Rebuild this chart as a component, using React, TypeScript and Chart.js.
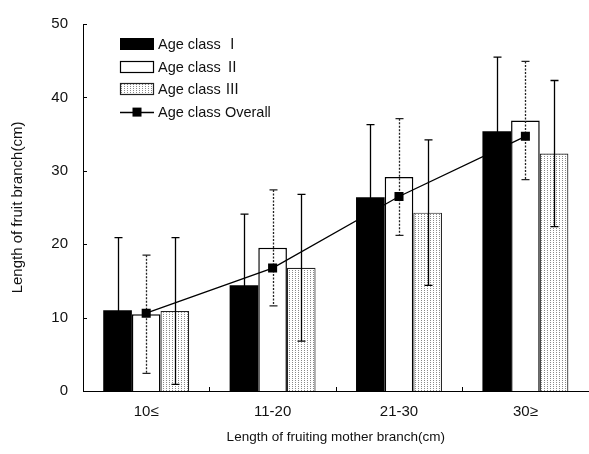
import { useEffect, useRef } from 'react';
import { Chart, registerables } from 'chart.js';

Chart.register(...registerables);

// Categories of fruiting mother branch length
const categories = ['10≤', '11-20', '21-30', '30≥'];

// Series names
const seriesNames = ['Age class Ⅰ', 'Age class Ⅱ', 'Age class Ⅲ', 'Age class Overall'];

// Mean fruit branch length (cm) and standard deviations per age class
const ageClassI = [11.0, 14.4, 26.4, 35.4];
const ageClassISd = [9.9, 9.7, 9.9, 10.1];
const ageClassII = [10.45, 19.5, 29.15, 36.85];
const ageClassIISd = [8.05, 7.9, 7.95, 8.05];
const ageClassIII = [10.9, 16.8, 24.3, 32.35];
const ageClassIIISd = [10.0, 10.0, 9.9, 9.95];
const ageClassOverall = [10.6, 16.75, 26.5, 34.7];

// Value axis
const yMin = 0;
const yMax = 50;
const yStep = 10;

const FONT_FAMILY = '"Liberation Sans", Arial, "Noto Sans CJK KR", sans-serif';
const TEXT_COLOR = '#111';

function makeStipple(): CanvasPattern | string {
  const c = document.createElement('canvas');
  c.width = 3;
  c.height = 2;
  const g = c.getContext('2d');
  if (!g) return '#eee';
  g.fillStyle = '#fff';
  g.fillRect(0, 0, 3, 2);
  g.fillStyle = '#8a8a8a';
  g.fillRect(1, 0, 1, 1);
  const p = g.createPattern(c, 'repeat');
  return p || '#eee';
}

// Draws mean ± SD whiskers right after each bar dataset
const errorBarPlugin = {
  id: 'errorBars',
  afterDatasetDraw(chart: any, args: any) {
    const ds = chart.data.datasets[args.index];
    if (!ds.errorBars) return;
    const yScale = chart.scales.y;
    const ctx = chart.ctx;
    ctx.save();
    ctx.strokeStyle = ds.errorColor || '#000';
    ctx.lineWidth = 1.3;
    ctx.setLineDash(ds.errorDash || []);
    args.meta.data.forEach((el: any, i: number) => {
      const v = ds.data[i];
      const sd = ds.errorBars[i];
      const yTop = yScale.getPixelForValue(v + sd);
      const yBot = yScale.getPixelForValue(Math.max(v - sd, yMin));
      const x = Math.round(el.x) + 0.5;
      ctx.beginPath();
      ctx.moveTo(x, yTop);
      ctx.lineTo(x, yBot);
      ctx.stroke();
      ctx.setLineDash([]);
      ctx.beginPath();
      ctx.moveTo(x - 4, yTop);
      ctx.lineTo(x + 4, yTop);
      ctx.moveTo(x - 4, yBot);
      ctx.lineTo(x + 4, yBot);
      ctx.stroke();
      ctx.setLineDash(ds.errorDash || []);
    });
    ctx.restore();
  },
};

// Inward tick marks on both axes
const axisTicksPlugin = {
  id: 'axisTicks',
  afterDraw(chart: any) {
    const { ctx, chartArea, scales } = chart;
    ctx.save();
    ctx.strokeStyle = '#000';
    ctx.lineWidth = 1;
    ctx.beginPath();
    scales.y.ticks.forEach((t: any) => {
      if (t.value === yMin) return;
      const y = Math.round(scales.y.getPixelForValue(t.value)) + 0.5;
      ctx.moveTo(chartArea.left, y);
      ctx.lineTo(chartArea.left + 4, y);
    });
    const n = categories.length;
    const w = (chartArea.right - chartArea.left) / n;
    for (let i = 1; i < n; i++) {
      const x = Math.round(chartArea.left + w * i) + 0.5;
      ctx.moveTo(x, chartArea.bottom);
      ctx.lineTo(x, chartArea.bottom - 4);
    }
    ctx.stroke();
    ctx.restore();
  },
};

// Legend block inside the plot area
const insideLegendPlugin = {
  id: 'insideLegend',
  afterDraw(chart: any) {
    const { ctx, chartArea } = chart;
    const x0 = chartArea.left + 37;
    const boxW = 34;
    const boxH = 12;
    ctx.save();
    ctx.font = `14.5px ${FONT_FAMILY}`;
    ctx.textBaseline = 'middle';
    ctx.textAlign = 'left';
    chart.data.datasets.forEach((ds: any, i: number) => {
      const cy = chartArea.top + 20 + i * 22.7;
      if (ds.type === 'line') {
        ctx.strokeStyle = ds.borderColor;
        ctx.lineWidth = 1.3;
        ctx.beginPath();
        ctx.moveTo(x0, Math.round(cy) + 0.5);
        ctx.lineTo(x0 + boxW, Math.round(cy) + 0.5);
        ctx.stroke();
        ctx.fillStyle = ds.pointBackgroundColor;
        ctx.fillRect(x0 + boxW / 2 - 4.5, cy - 4.5, 9, 9);
      } else {
        const top = Math.round(cy - boxH / 2);
        ctx.fillStyle = ds.backgroundColor;
        ctx.fillRect(x0, top, boxW, boxH);
        if (ds.borderWidth > 0) {
          ctx.strokeStyle = ds.borderColor;
          ctx.lineWidth = 1.2;
          ctx.strokeRect(x0 + 0.5, top + 0.5, boxW - 1, boxH - 1);
        }
      }
      ctx.fillStyle = TEXT_COLOR;
      ctx.fillText(ds.label, x0 + boxW + 4, cy + 1);
    });
    ctx.restore();
  },
};

export default function App() {
  const canvasRef = useRef<HTMLCanvasElement | null>(null);

  useEffect(() => {
    document.body.style.margin = '0';
    const canvas = canvasRef.current;
    if (!canvas) return;
    const stipple = makeStipple();
    const tickFont = { family: FONT_FAMILY, size: 15 };

    const chart = new Chart(canvas, {
      type: 'bar',
      data: {
        labels: categories,
        datasets: [
          {
            label: seriesNames[0],
            data: ageClassI,
            backgroundColor: '#000',
            borderColor: '#000',
            borderWidth: 0,
            order: 1,
            errorBars: ageClassISd,
            errorColor: '#000',
          } as any,
          {
            label: seriesNames[1],
            data: ageClassII,
            backgroundColor: '#fff',
            borderColor: '#000',
            borderWidth: 1.5,
            order: 1,
            errorBars: ageClassIISd,
            errorColor: '#222',
            errorDash: [2, 1.5],
          } as any,
          {
            label: seriesNames[2],
            data: ageClassIII,
            backgroundColor: stipple,
            borderColor: '#222',
            borderWidth: 1.2,
            order: 1,
            errorBars: ageClassIIISd,
            errorColor: '#000',
          } as any,
          {
            type: 'line',
            label: seriesNames[3],
            data: ageClassOverall,
            borderColor: '#000',
            borderWidth: 1.3,
            backgroundColor: '#000',
            pointStyle: 'rect',
            pointRadius: 6.4,
            pointBackgroundColor: '#000',
            pointBorderColor: '#000',
            pointBorderWidth: 0,
            tension: 0,
            order: 0,
          } as any,
        ],
      },
      options: {
        responsive: false,
        animation: false,
        devicePixelRatio: 1,
        layout: { padding: { top: 12, right: 0, bottom: 0, left: 0 } },
        datasets: {
          bar: { categoryPercentage: 0.68, barPercentage: 1, borderSkipped: 'bottom' },
        },
        plugins: {
          legend: { display: false },
          tooltip: { enabled: false },
        },
        scales: {
          x: {
            type: 'category',
            offset: true,
            grid: { display: false, drawTicks: false },
            border: { display: true, color: '#000', width: 1 },
            ticks: { padding: 12, color: TEXT_COLOR, font: tickFont },
            title: {
              display: true,
              text: 'Length of fruiting mother branch(cm)',
              color: TEXT_COLOR,
              font: { family: FONT_FAMILY, size: 13.5 },
              padding: { top: 0, bottom: 9 },
            },
            afterFit: (s: any) => {
              s.height = 63;
            },
          },
          y: {
            min: yMin,
            max: yMax,
            grid: { display: false, drawTicks: false },
            border: { display: true, color: '#000', width: 1 },
            ticks: { stepSize: yStep, padding: 15, color: TEXT_COLOR, font: tickFont },
            title: {
              display: true,
              text: 'Length of fruit branch(cm)',
              color: TEXT_COLOR,
              font: { family: FONT_FAMILY, size: 15 },
              padding: { top: 9, bottom: 0 },
            },
            afterFit: (s: any) => {
              s.width = 83;
            },
          },
        },
      } as any,
      plugins: [errorBarPlugin, axisTicksPlugin, insideLegendPlugin],
    });

    return () => {
      chart.destroy();
    };
  }, []);

  return (
    <div style={{ width: 589, height: 454, overflow: 'hidden', background: '#fff' }}>
      <canvas ref={canvasRef} width={595} height={454} style={{ display: 'block', width: 595, height: 454 }} />
    </div>
  );
}
